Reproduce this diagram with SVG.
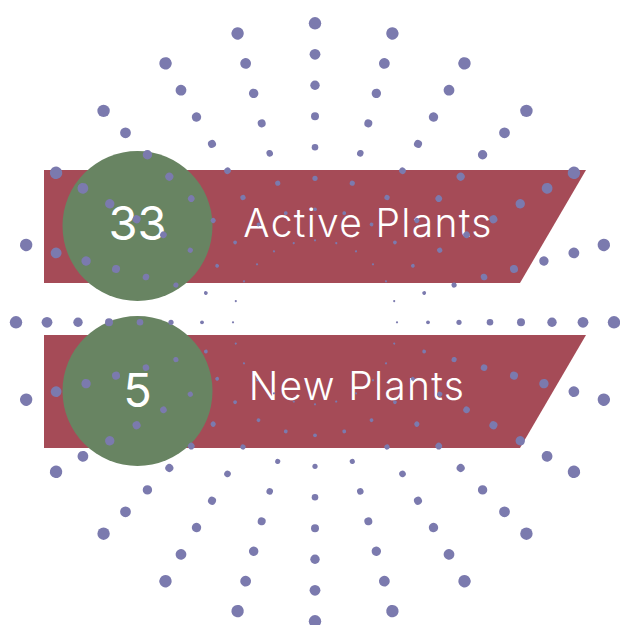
<svg xmlns="http://www.w3.org/2000/svg" xmlns:xlink="http://www.w3.org/1999/xlink" width="620" height="625" viewBox="0 0 620 625">
  <style>
    .banner { fill: #a54b57; }
    .badge { fill: #688462; }
    .dot { fill: #7b7aae; }
    .num { font-family: Inter, "DejaVu Sans", sans-serif; font-weight: 400; font-size: 47px; fill: #ffffff; text-anchor: middle; }
    .label { font-family: Inter, "DejaVu Sans", sans-serif; font-weight: 300; font-size: 39px; letter-spacing: 1.3px; fill: #ffffff; text-anchor: middle; }
  </style>
  <defs>
    <g id="ray">
      <circle class="dot" cx="315" cy="240.3" r="1.1"/>
      <circle class="dot" cx="315" cy="209.3" r="1.9"/>
      <circle class="dot" cx="315" cy="178.3" r="2.6"/>
      <circle class="dot" cx="315" cy="147.3" r="3.3"/>
      <circle class="dot" cx="315" cy="116.3" r="4.0"/>
      <circle class="dot" cx="315" cy="85.3" r="4.7"/>
      <circle class="dot" cx="315" cy="54.3" r="5.4"/>
      <circle class="dot" cx="315" cy="23.3" r="6.2"/>
    </g>
  </defs>
  <rect width="620" height="625" fill="#ffffff"/>

  <g id="active-plants">
    <polygon class="banner" points="44,170 586,170 520,283 44,283"/>
    <circle class="badge" cx="137.5" cy="226" r="75"/>
    <text class="num" x="137.5" y="240">33</text>
    <text class="label" x="368" y="237">Active Plants</text>
  </g>

  <g id="new-plants">
    <polygon class="banner" points="44,335 586,335 520,448 44,448"/>
    <circle class="badge" cx="137.5" cy="391" r="75"/>
    <text class="num" x="137.5" y="407">5</text>
    <text class="label" x="357" y="400">New Plants</text>
  </g>

  <g id="connectors"></g>

  <g id="dots">
    <use xlink:href="#ray" href="#ray" transform="rotate(0 315 322.3)"/>
    <use xlink:href="#ray" href="#ray" transform="rotate(15 315 322.3)"/>
    <use xlink:href="#ray" href="#ray" transform="rotate(30 315 322.3)"/>
    <use xlink:href="#ray" href="#ray" transform="rotate(45 315 322.3)"/>
    <use xlink:href="#ray" href="#ray" transform="rotate(60 315 322.3)"/>
    <use xlink:href="#ray" href="#ray" transform="rotate(75 315 322.3)"/>
    <use xlink:href="#ray" href="#ray" transform="rotate(90 315 322.3)"/>
    <use xlink:href="#ray" href="#ray" transform="rotate(105 315 322.3)"/>
    <use xlink:href="#ray" href="#ray" transform="rotate(120 315 322.3)"/>
    <use xlink:href="#ray" href="#ray" transform="rotate(135 315 322.3)"/>
    <use xlink:href="#ray" href="#ray" transform="rotate(150 315 322.3)"/>
    <use xlink:href="#ray" href="#ray" transform="rotate(165 315 322.3)"/>
    <use xlink:href="#ray" href="#ray" transform="rotate(180 315 322.3)"/>
    <use xlink:href="#ray" href="#ray" transform="rotate(195 315 322.3)"/>
    <use xlink:href="#ray" href="#ray" transform="rotate(210 315 322.3)"/>
    <use xlink:href="#ray" href="#ray" transform="rotate(225 315 322.3)"/>
    <use xlink:href="#ray" href="#ray" transform="rotate(240 315 322.3)"/>
    <use xlink:href="#ray" href="#ray" transform="rotate(255 315 322.3)"/>
    <use xlink:href="#ray" href="#ray" transform="rotate(270 315 322.3)"/>
    <use xlink:href="#ray" href="#ray" transform="rotate(285 315 322.3)"/>
    <use xlink:href="#ray" href="#ray" transform="rotate(300 315 322.3)"/>
    <use xlink:href="#ray" href="#ray" transform="rotate(315 315 322.3)"/>
    <use xlink:href="#ray" href="#ray" transform="rotate(330 315 322.3)"/>
    <use xlink:href="#ray" href="#ray" transform="rotate(345 315 322.3)"/>
  </g>
</svg>
